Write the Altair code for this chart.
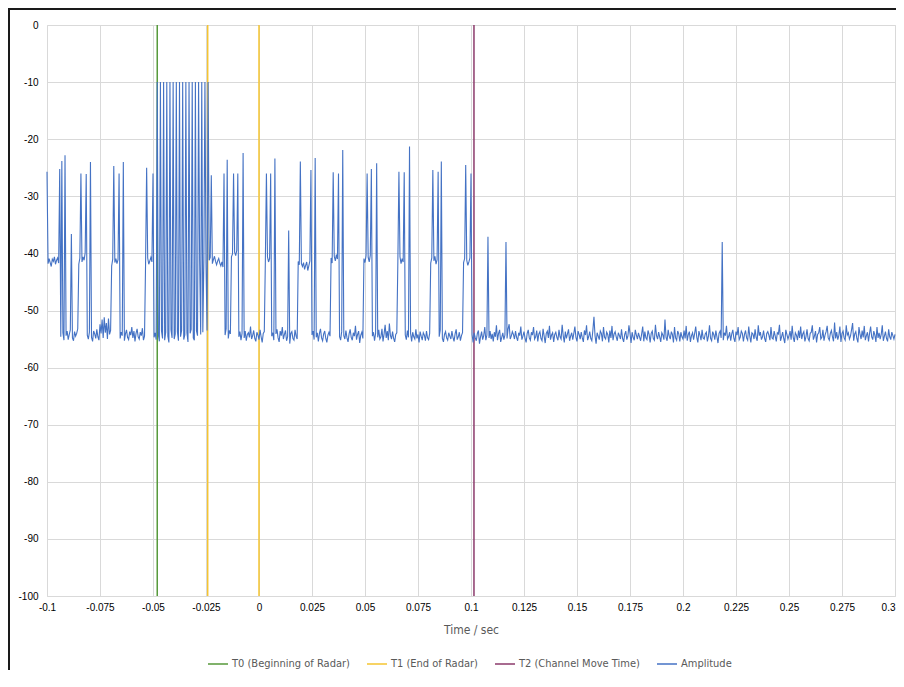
import altair as alt
import pandas as pd

# Amplitude samples, one every 0.5 ms starting at t = -0.1 s
amplitude = [
    # -0.100 .. -0.0905
    -25.7, -41.8, -40.9, -41.6, -42.3, -41.0, -41.4, -40.6, -41.9, -41.2, -40.8, -41.7, -25.2, -54.6, -23.8, -53.9, -55.2, -22.8, -54.4, -53.6,
    # -0.090
    -55.1, -54.2, -53.4, -36.6, -54.8, -55.3, -53.7, -54.5, -54.0, -53.2, -41.9, -40.8, -26.0, -41.5, -40.6, -41.2, -39.9, -26.1, -54.3, -55.0,
    # -0.080
    -53.8, -24.0, -54.7, -55.4, -53.6, -54.1, -54.9, -53.3, -54.6, -55.2, -52.4, -54.0, -51.6, -54.8, -51.2, -53.9, -52.2, -55.0, -51.4, -54.2,
    # -0.070
    -53.5, -42.2, -41.0, -24.7, -41.6, -40.9, -41.8, -41.1, -26.0, -54.9, -53.8, -54.4, -24.0, -55.3, -54.1, -53.4, -54.7, -55.1, -53.7, -54.3,
    # -0.060
    -52.9, -54.8, -53.6, -55.4, -54.0, -53.2, -54.6, -55.0, -53.8, -54.4, -53.1, -55.2, -54.5, -41.6, -25.0, -40.8, -41.9, -41.3, -40.7, -41.5,
    # -0.050
    -26.0, -54.7, -53.9, -55.1, -10.0, -54.2, -55.4, -10.0, -53.6, -54.9, -10.0, -55.2, -53.8, -10.0, -54.5, -55.6, -10.0, -53.4, -54.8, -10.0,
    # -0.040
    -55.0, -54.1, -10.0, -53.7, -55.3, -10.0, -54.6, -53.5, -10.0, -55.1, -54.3, -10.0, -53.9, -55.5, -10.0, -54.0, -53.3, -10.0, -54.8, -55.2,
    # -0.030
    -10.0, -53.6, -54.4, -10.0, -41.3, -54.2, -10.0, -53.8, -41.0, -10.0, -41.6, -53.5, -10.0, -41.2, -40.7, -26.3, -41.8, -41.1, -40.5, -41.4,
    # -0.020
    -42.0, -41.3, -40.9, -41.7, -42.2, -41.5, -42.4, -26.0, -54.3, -53.2, -23.6, -54.9, -53.5, -54.1, -40.6, -40.1, -26.0, -39.8, -40.4, -39.5,
    # -0.010
    -26.0, -54.6, -53.7, -55.2, -54.0, -22.4, -54.8, -53.6, -55.3, -54.2, -53.9, -54.7, -52.8, -55.0, -54.4, -53.5, -54.9, -55.4, -53.8, -54.3,
    # 0.000
    -55.1, -53.4, -54.6, -55.6, -54.0, -53.7, -41.2, -26.0, -40.6, -41.5, -40.9, -26.0, -54.5, -53.9, -55.2, -23.4, -54.1, -53.3, -54.8, -55.5,
    # 0.010
    -53.6, -54.4, -52.9, -55.0, -54.2, -53.5, -55.3, -54.6, -36.0, -55.8, -54.0, -53.7, -54.9, -55.2, -53.4, -54.5, -55.0, -41.4, -42.0, -23.9,
    # 0.020
    -41.8, -42.3, -41.6, -42.8, -42.1, -41.5, -43.0, -42.2, -41.3, -25.4, -54.3, -53.6, -55.1, -23.3, -54.7, -53.9, -55.4, -54.0, -53.2, -54.8,
    # 0.030
    -55.3, -54.1, -53.6, -54.9, -55.6, -54.3, -53.8, -54.5, -40.8, -41.7, -25.8, -40.5, -41.3, -40.2, -41.0, -26.0, -54.6, -55.2, -53.7, -21.9,
    # 0.040
    -54.4, -55.0, -53.5, -54.8, -55.5, -54.1, -53.3, -54.7, -55.2, -53.9, -54.5, -52.7, -55.1, -54.2, -53.6, -55.7, -54.3, -53.8, -54.9, -40.9,
    # 0.050
    -41.6, -40.4, -26.0, -40.7, -41.5, -40.3, -25.2, -54.5, -53.8, -55.3, -54.0, -24.2, -54.7, -53.4, -55.0, -54.6, -53.2, -55.4, -54.1, -52.5,
    # 0.060
    -54.8, -53.6, -55.2, -52.3, -54.4, -55.0, -53.7, -54.9, -55.5, -54.2, -53.9, -41.4, -25.7, -40.6, -41.8, -40.9, -41.5, -25.8, -54.3, -55.1,
    # 0.070
    -53.5, -54.7, -21.3, -54.0, -55.4, -53.8, -54.6, -55.0, -53.3, -54.9, -54.2, -55.6, -53.7, -54.5, -55.2, -53.9, -54.3, -55.3, -53.6, -54.8,
    # 0.080
    -55.1, -54.0, -41.7, -40.8, -25.4, -41.3, -40.5, -41.9, -41.1, -25.7, -54.6, -53.4, -23.9, -54.9, -55.5, -54.2, -53.7, -54.8, -55.2, -53.9,
    # 0.090
    -54.5, -55.0, -53.6, -54.7, -55.4, -54.1, -53.3, -55.1, -54.6, -53.8, -55.3, -54.4, -53.9, -41.6, -40.9, -24.5, -41.2, -42.1, -41.5, -40.8,
    # 0.100
    -26.0, -54.2, -55.6, -53.9, -54.8, -55.3, -54.0, -53.5, -55.8, -54.6, -53.7, -55.1, -54.4, -52.9, -55.2, -54.3, -37.1, -54.8, -53.6, -55.0,
    # 0.110
    -54.1, -55.4, -53.8, -54.6, -52.6, -55.2, -54.0, -53.4, -55.5, -54.7, -53.9, -55.1, -54.3, -38.0, -54.9, -53.2, -52.4, -55.0, -54.5, -53.7,
    # 0.120
    -54.2, -55.0, -53.6, -54.7, -55.3, -53.9, -54.4, -52.8, -55.1, -54.5, -53.7, -54.9, -55.6, -54.0, -53.4, -54.8, -55.2, -53.8, -54.3, -52.9,
    # 0.130
    -55.0, -54.6, -53.5, -55.4, -54.1, -53.7, -54.9, -55.3, -53.2, -54.5, -55.7, -54.0, -53.6, -54.8, -52.7, -55.1, -54.3, -53.9, -55.5, -54.2,
    # 0.140
    -53.8, -54.7, -55.2, -53.4, -54.6, -55.0, -52.5, -54.4, -55.6, -53.7, -54.9, -54.1, -53.3, -55.3, -54.5, -53.9, -55.1, -54.0, -52.8, -54.7,
    # 0.150
    -55.4, -53.6, -54.2, -55.0, -53.8, -54.8, -55.5, -53.5, -54.3, -52.6, -55.2, -54.6, -53.7, -54.9, -55.3, -53.4, -51.1, -54.4, -55.8, -53.9,
    # 0.160
    -54.5, -55.1, -53.6, -54.0, -55.4, -52.9, -54.7, -55.0, -53.8, -54.2, -55.6, -53.5, -54.8, -52.7, -55.2, -54.1, -53.7, -54.6, -55.3, -53.9,
    # 0.170
    -54.4, -55.0, -53.3, -54.9, -55.5, -54.2, -53.6, -55.1, -54.5, -52.6, -54.0, -55.7, -53.8, -54.7, -55.2, -53.4, -54.3, -55.0, -53.9, -54.6,
    # 0.180
    -55.3, -54.1, -52.8, -55.4, -53.7, -54.8, -55.1, -53.5, -54.2, -55.6, -54.0, -53.6, -54.9, -55.2, -52.5, -54.4, -55.0, -53.8, -54.6, -55.5,
    # 0.190
    -53.9, -54.3, -55.1, -51.6, -54.7, -55.3, -53.4, -54.5, -55.0, -53.7, -54.2, -55.6, -52.9, -54.8, -55.2, -53.6, -54.1, -55.4, -53.8, -54.6,
    # 0.200
    -55.0, -53.5, -54.9, -52.7, -55.3, -54.2, -53.7, -55.5, -54.4, -53.9, -55.1, -54.0, -52.8, -54.7, -55.6, -53.6, -54.3, -55.2, -53.4, -54.8,
    # 0.210
    -55.0, -54.1, -53.8, -55.4, -54.5, -52.6, -54.9, -55.3, -53.7, -54.2, -55.1, -53.5, -54.6, -55.7, -54.0, -53.6, -54.8, -38.0, -55.2, -53.9,
    # 0.220
    -54.4, -52.7, -55.0, -54.6, -53.8, -55.3, -54.1, -53.4, -54.9, -55.5, -53.7, -54.3, -52.9, -55.1, -54.7, -53.6, -54.0, -55.4, -54.2, -53.5,
    # 0.230
    -54.8, -55.2, -52.8, -54.5, -55.6, -53.9, -54.1, -55.0, -53.3, -54.7, -55.3, -52.6, -54.4, -53.8, -55.1, -54.6, -53.5, -54.9, -55.5, -54.0,
    # 0.240
    -53.7, -54.3, -55.2, -52.9, -54.8, -55.0, -53.6, -54.5, -55.4, -53.9, -54.1, -52.5, -55.3, -54.6, -53.8, -54.9, -55.7, -53.4, -54.2, -55.0,
    # 0.250
    -54.4, -53.6, -55.1, -52.7, -54.7, -55.5, -53.9, -54.3, -55.2, -53.5, -54.8, -52.8, -55.0, -54.1, -53.7, -55.4, -54.6, -53.3, -54.9, -55.3,
    # 0.260
    -54.0, -53.8, -52.6, -55.1, -54.5, -53.6, -55.6, -54.2, -53.9, -52.9, -55.0, -54.7, -53.4, -55.3, -54.3, -53.7, -52.7, -54.8, -55.2, -54.0,
    # 0.270
    -53.5, -54.6, -55.4, -52.1, -54.9, -53.8, -55.1, -54.4, -52.8, -55.5, -54.0, -53.6, -54.8, -55.2, -52.6, -54.3, -53.9, -55.0, -54.5, -53.4,
    # 0.280
    -52.2, -55.3, -54.1, -53.7, -54.9, -55.6, -52.9, -54.2, -55.0, -53.5, -54.7, -52.7, -55.2, -54.4, -53.8, -55.4, -54.0, -52.8, -54.6, -55.1,
    # 0.290
    -53.6, -54.3, -55.5, -52.9, -54.8, -53.9, -55.0, -54.2, -52.6, -55.3, -54.5, -53.7, -54.9, -55.4, -53.3, -54.6, -55.1, -53.8, -54.4, -55.0,
    # 0.300
    -54.2,
]
sample_step = 0.0005
time_s = [round(-0.1 + sample_step * i, 4) for i in range(len(amplitude))]

# Vertical marker lines
marker_ids = ["T0", "T1a", "T1b", "T2"]
marker_series = ["T0 (Beginning of Radar)", "T1 (End of Radar)", "T1 (End of Radar)", "T2 (Channel Move Time)"]
marker_times = [-0.048, -0.0242, 0.0, 0.1014]
marker_levels = [0, -100]

series_order = ["T0 (Beginning of Radar)", "T1 (End of Radar)", "T2 (Channel Move Time)", "Amplitude"]
series_colors = ["#56993A", "#F5C431", "#8B3A6B", "#4472C4"]

x_ticks = [-0.1, -0.075, -0.05, -0.025, 0, 0.025, 0.05, 0.075, 0.1, 0.125, 0.15, 0.175, 0.2, 0.225, 0.25, 0.275, 0.3]
y_ticks = [-100, -90, -80, -70, -60, -50, -40, -30, -20, -10, 0]

amp_df = pd.DataFrame({"time": time_s, "value": amplitude, "series": "Amplitude", "id": "A"})
rows = []
for mid, ms, mt in zip(marker_ids, marker_series, marker_times):
    for lv in marker_levels:
        rows.append({"time": mt, "value": lv, "series": ms, "id": mid})
mark_df = pd.DataFrame(rows)

FONT = "Liberation Sans Narrow, DejaVu Sans Condensed, sans-serif"
GREY = "#595959"

x_enc = alt.X("time:Q", scale=alt.Scale(domain=[-0.1, 0.3], nice=False, zero=False),
              axis=alt.Axis(values=x_ticks, labelExpr="'' + datum.value", title="Time / sec",
                            grid=True, gridColor="#D9D9D9", domain=False, ticks=False,
                            labelPadding=6, titlePadding=12, labelFlush=False,
                            labelAlign={"condition": {"test": "datum.value >= 0.3", "value": "right"},
                                        "value": "center"},
                            titleFontWeight="normal", titleFont=FONT, titleFontSize=12,
                            titleColor=GREY))
y_enc = alt.Y("value:Q", scale=alt.Scale(domain=[-100, 0], nice=False, zero=False),
              axis=alt.Axis(values=y_ticks, labelExpr="'' + datum.value", title=None,
                            grid=True, gridColor="#D9D9D9", domain=False, ticks=False,
                            labelPadding=9))
color_enc = alt.Color("series:N", scale=alt.Scale(domain=series_order, range=series_colors),
                      legend=alt.Legend(title=None, orient="none", direction="horizontal",
                                        legendX=160, legendY=628, symbolType="stroke",
                                        symbolSize=400, symbolStrokeWidth=1.5,
                                        labelFontSize=11, labelColor=GREY, labelFont=FONT,
                                        columnPadding=14, labelOffset=3, padding=0))

markers = alt.Chart(mark_df).mark_line(strokeWidth=1.5).encode(
    x=x_enc, y=y_enc, color=color_enc, detail="id:N")
amp = alt.Chart(amp_df).mark_line(strokeWidth=1.1).encode(
    x=x_enc, y=y_enc, color=color_enc)
frame = alt.Chart(pd.DataFrame({"k": [0]})).mark_rect(
    fill="transparent", stroke="#1a1a1a", strokeWidth=2).encode(
    x=alt.value(-38), x2=alt.value(880), y=alt.value(-16), y2=alt.value(700))

chart = alt.layer(markers, amp, frame).properties(
    width=848, height=571,
    autosize=alt.AutoSizeParams(type="none"),
    padding={"left": 39, "top": 17, "right": 1, "bottom": 74},
).configure_view(stroke=None).configure_axis(
    labelFont=FONT, titleFont=FONT, labelFontSize=11, titleFontSize=12,
    labelColor=GREY, titleColor=GREY, titleFontWeight="normal"
).configure(background="white")

chart.save("out.html", embed_options={"renderer": "svg", "actions": False})
